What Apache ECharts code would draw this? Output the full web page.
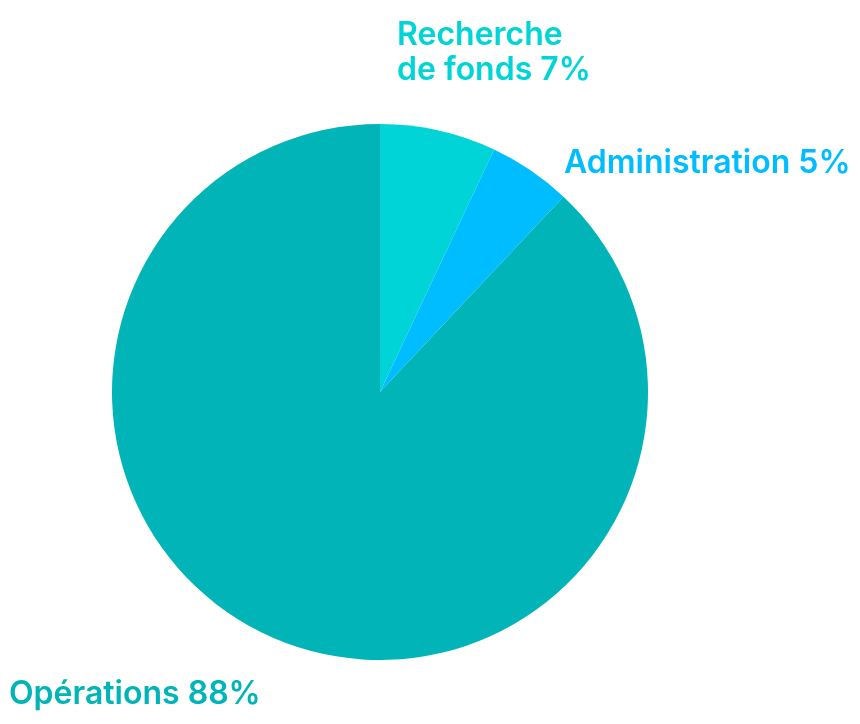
<!DOCTYPE html>
<html><head><meta charset="utf-8">
<script src="https://cdn.jsdelivr.net/npm/echarts@6/dist/echarts.min.js"></script>
<style>html,body{margin:0;padding:0;background:#fff;}#c{width:860px;height:724px;}</style>
</head><body><div id="c"></div>
<script>
const categories = ['Recherche\nde fonds', 'Administration', 'Opérations'];
const values = [7, 5, 88];
const colors = ['#00D4D6', '#00BDFF', '#00B4B7'];
const labelPos = [[397, 53], [564, 163], [9, 694]];

const chart = echarts.init(document.getElementById('c'));
chart.setOption({
  animation: false,
  series: [{
    type: 'pie',
    center: [380, 392],
    radius: 268,
    startAngle: 90,
    clockwise: true,
    data: categories.map((n, i) => ({ name: n, value: values[i], itemStyle: { color: colors[i] }, label: { color: colors[i] } })),
    label: {
      show: true,
      formatter: p => p.name + ' ' + p.value + '%',
      fontFamily: 'Inter',
      fontWeight: 600,
      fontSize: 32,
      lineHeight: 35,
      overflow: 'none',
      width: 400
    },
    labelLine: { show: false },
    labelLayout: function (p) {
      const pos = labelPos[p.dataIndex];
      return { x: pos[0], y: pos[1], align: 'left', verticalAlign: 'middle' };
    }
  }]
});
</script></body></html>
